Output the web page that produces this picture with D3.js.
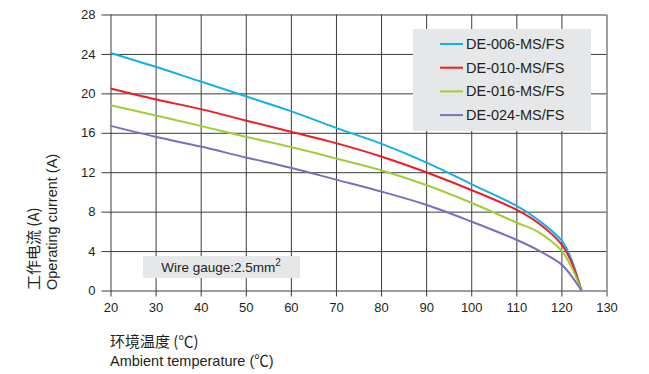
<!DOCTYPE html>
<html><head><meta charset="utf-8">
<script src="https://cdn.jsdelivr.net/npm/d3@7"></script>
<style>
html,body{margin:0;padding:0;background:#fff;}
text{font-family:"Liberation Sans",Arial,"Noto Sans CJK SC",sans-serif;fill:#231f20;}
</style></head>
<body><svg id="c" width="649" height="374"></svg>
<script>
const temps = [20,30,40,50,60,70,80,90,100,110,115,120,122,124.45];
const seriesNames = ["DE-006-MS/FS","DE-010-MS/FS","DE-016-MS/FS","DE-024-MS/FS"];
const de006 = [24.1,22.7,21.2,19.7,18.2,16.5,14.9,13.0,10.8,8.6,7.1,5.1,3.4,0];
const de010 = [20.5,19.4,18.4,17.25,16.1,14.95,13.6,12.0,10.2,8.2,6.8,4.7,3.1,0];
const de016 = [18.8,17.75,16.7,15.6,14.55,13.4,12.2,10.7,8.9,6.9,5.9,4.05,2.6,0];
const de024 = [16.7,15.6,14.6,13.5,12.45,11.25,10.05,8.7,7.0,5.15,4.05,2.65,1.6,0];
const xTicks = [20,30,40,50,60,70,80,90,100,110,120,130];
const yTicks = [0,4,8,12,16,20,24,28];
const colors = ["#11b1ea","#ee1d25","#a3cc3a","#7a6fbd"];
const allSeries = [de006,de010,de016,de024];

const svg = d3.select("#c");
const x = d3.scaleLinear().domain([20,130]).range([110.5,606.5]);
const y = d3.scaleLinear().domain([0,28]).range([290.5,14.5]);
const gridColor = "#3c3c3c";

// x axis with vertical gridlines
const gx = svg.append("g").attr("transform",`translate(0,${y(0)})`)
  .call(d3.axisBottom(x).tickValues(xTicks).tickSize(6).tickSizeOuter(0).tickPadding(4));
gx.select(".domain").remove();
gx.selectAll(".tick line").attr("y1", 6).attr("y2", y(28)-y(0)).attr("stroke",gridColor);
gx.selectAll(".tick text").attr("font-size","13px").attr("fill","#231f20").attr("dy","0.9em");

// y axis with horizontal gridlines
const gy = svg.append("g").attr("transform",`translate(${x(20)},0)`)
  .call(d3.axisLeft(y).tickValues(yTicks).tickSize(9).tickSizeOuter(0).tickPadding(6));
gy.select(".domain").remove();
gy.selectAll(".tick line").attr("x1", -9).attr("x2", x(130)-x(20)).attr("stroke",gridColor);
gy.selectAll(".tick text").attr("font-size","13px").attr("fill","#231f20");

// curves
const line = d3.line().x((d,i)=>x(temps[i])).y(d=>y(d)).curve(d3.curveCatmullRom.alpha(0.5));
allSeries.forEach((s,k)=>{
  svg.append("path").attr("d",line(s)).attr("fill","none")
    .attr("stroke",colors[k]).attr("stroke-width",2);
});

// legend
const lg = svg.append("g");
lg.append("rect").attr("x",413).attr("y",29).attr("width",178).attr("height",102).attr("fill","#e6e7e8");
seriesNames.forEach((n,k)=>{
  const yy = 44 + k*23.7;
  lg.append("line").attr("x1",440).attr("x2",463).attr("y1",yy).attr("y2",yy)
    .attr("stroke",colors[k]).attr("stroke-width",2);
  lg.append("text").attr("x",466).attr("y",yy+5).attr("font-size","14.5px").text(n);
});

// wire gauge box
svg.append("rect").attr("x",143).attr("y",256).attr("width",157).attr("height",22).attr("fill","#e6e7e8");
const wt = svg.append("text").attr("x",221).attr("y",272).attr("text-anchor","middle").attr("font-size","13.5px");
wt.append("tspan").text("Wire gauge:2.5mm");
wt.append("tspan").attr("font-size","10px").attr("dy","-6").text("2");

// axis titles
svg.append("text").attr("transform","translate(39,290) rotate(-90)").attr("font-size","15px")
  .style("font-family","'Noto Sans CJK SC','Liberation Sans',sans-serif").text("工作电流 (A)");
svg.append("text").attr("transform","translate(57,290) rotate(-90)").attr("font-size","14.5px").text("Operating current (A)");
svg.append("text").attr("x",110).attr("y",347).attr("font-size","15px")
  .style("font-family","'Noto Sans CJK SC','Liberation Sans',sans-serif").text("环境温度 (℃)");
svg.append("text").attr("x",110).attr("y",366).attr("font-size","14.5px").text("Ambient temperature (℃)");
</script></body></html>
